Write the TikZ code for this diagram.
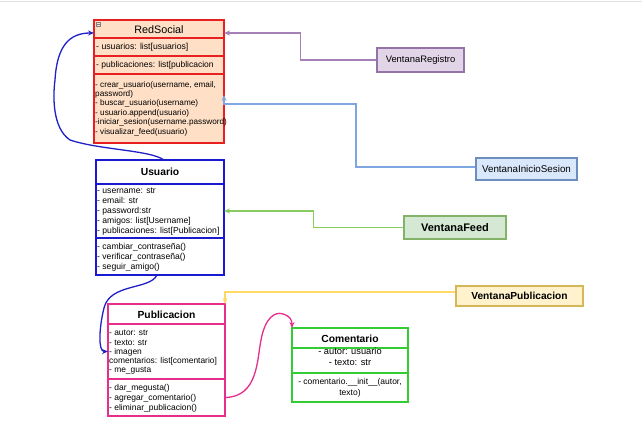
\documentclass[tikz,border=0pt]{standalone}
\usepackage{fontspec}
\setmainfont{Liberation Sans}
\usetikzlibrary{arrows.meta,calc}
\definecolor{peach}{HTML}{FFE0C6}
\definecolor{rsred}{HTML}{E82020}
\definecolor{ublue}{HTML}{1A1AD0}
\definecolor{ppink}{HTML}{E62E8A}
\definecolor{cgreen}{HTML}{33CC33}
\definecolor{regfill}{HTML}{E1D5E7}\definecolor{regline}{HTML}{9673A6}\definecolor{regconn}{HTML}{A680B8}
\definecolor{inifill}{HTML}{DAE8FC}\definecolor{iniline}{HTML}{6C8EBF}\definecolor{iniconn}{HTML}{7EA6E0}
\definecolor{feedfill}{HTML}{D5E8D4}\definecolor{feedline}{HTML}{82B366}\definecolor{feedconn}{HTML}{88CC60}
\definecolor{pubfill}{HTML}{FFF2CC}\definecolor{publine}{HTML}{D6B656}\definecolor{pubconn}{HTML}{FFD966}
\definecolor{curveblue}{HTML}{2020C8}
\newcommand\myfs[2]{\fontsize{#1}{#2}\selectfont}
\tikzset{
  comp/.style={draw, rectangle, anchor=north west, inner sep=0pt, outer sep=0pt, line width=1.5pt},
  rsbox/.style={comp, draw=rsred, fill=peach, minimum width=130pt},
  ubox/.style={comp, draw=ublue, fill=white, minimum width=128pt},
  pbox/.style={comp, draw=ppink, fill=white, minimum width=117pt},
  cbox/.style={comp, draw=cgreen, fill=white, minimum width=116pt},
  vbox/.style={draw, rectangle, inner sep=0pt, line width=1.3pt},
  txt/.style={anchor=west, inner sep=0pt, align=left},
  conn/.style={line width=1.3pt, -{Stealth[length=6pt,width=5pt]}},
  ttl/.style={font=\myfs{10.3}{12}\bfseries},
}
\begin{document}
\begin{tikzpicture}[x=1pt,y=-1pt]
\useasboundingbox (0,0) rectangle (642,433);
\fill[white] (0,0) rectangle (642,433);
\draw[black!12, line width=1pt] (0,2) -- (642,2);

% RedSocial
\node[rsbox, minimum height=18pt] (rsT) at (94,20) {};
\node[font=\myfs{10.8}{12}] (rsTt) at ($(rsT.center)+(0,1)$) {RedSocial};
\node[rsbox, minimum height=18pt] (rsA) at (94,38) {};
\node[rsbox, minimum height=18pt] (rsB) at (94,56) {};
\node[rsbox, minimum height=69pt] (rsM) at (94,74) {};
\draw[gray, line width=0.4pt] (96.5,22.5) rectangle (100.5,26.5);
\draw[gray, line width=0.4pt] (97.3,24.5) -- (99.7,24.5);
\node[txt, font=\myfs{8.7}{9.4}] (rsAt) at (96,47.5) {- usuarios: list[usuarios]};
\node[txt, font=\myfs{8.5}{9.4}] (rsBt) at (96,65.5) {- publicaciones: list[publicacion};
\node[txt, font=\myfs{8.2}{9.4}] (rsMt) at (95,108.5) {- crear\_usuario(username, email,\\password)\\- buscar\_usuario(username)\\- usuario.append(usuario)\\-iniciar\_sesion(username.password)\\- visualizar\_feed(usuario)};

% Usuario
\node[ubox, minimum height=24pt] (uT) at (96,160) {};
\node[ttl] (uTt) at (uT.center) {Usuario};
\node[ubox, minimum height=54pt] (uA) at (96,184) {};
\node[ubox, minimum height=37pt] (uM) at (96,238) {};
\node[txt, font=\myfs{8.6}{10}] (uAt) at (97,211.5) {- username: str\\- email: str\\- password:str\\- amigos: list[Username]\\- publicaciones: list[Publicacion]};
\node[txt, font=\myfs{8.6}{10}] (uMt) at (97,257) {- cambiar\_contraseña()\\- verificar\_contraseña()\\- seguir\_amigo()};

% Publicacion
\node[pbox, minimum height=20pt] (pT) at (108,304) {};
\node[ttl] (pTt) at ($(pT.center)+(0,0.5)$) {Publicacion};
\node[pbox, minimum height=55pt] (pA) at (108,324) {};
\node[pbox, minimum height=37pt] (pM) at (108,379) {};
\node[txt, font=\myfs{8.4}{9.25}] (pAt) at (109,352.5) {- autor: str\\- texto: str\\- imagen\\comentarios: list[comentario]\\- me\_gusta};
\node[txt, font=\myfs{8.5}{10}] (pMt) at (109,398) {- dar\_megusta()\\- agregar\_comentario()\\- eliminar\_publicacion()};

% Comentario
\node[cbox, minimum height=20pt] (cT) at (292,328) {};
\node[ttl] (cTt) at ($(cT.center)+(0,1)$) {Comentario};
\node[cbox, minimum height=25pt] (cA) at (292,348) {};
\node[cbox, minimum height=29pt] (cM) at (292,373) {};
\node[inner sep=0pt, font=\myfs{9.3}{10}] (cAt1) at (350,351.5) {- autor: usuario};
\node[inner sep=0pt, font=\myfs{9.3}{10}] (cAt2) at (350,362.5) {- texto: str};
\node[inner sep=0pt, align=center, font=\myfs{8.5}{10.5}] (cMt) at (350,388) {- comentario.\_\_init\_\_(autor,\\texto)};

% Ventanas
\node[vbox, draw=regline, fill=regfill, minimum width=87pt, minimum height=24pt, font=\myfs{9.4}{11}] (vreg) at (420.5,60) {VentanaRegistro};
\node[vbox, draw=iniline, fill=inifill, minimum width=101pt, minimum height=22pt, font=\myfs{9.8}{11}] (vini) at (526.5,169) {VentanaInicioSesion};
\node[vbox, draw=feedline, fill=feedfill, minimum width=102pt, minimum height=23pt, font=\myfs{11}{13}\bfseries] (vfeed) at (455,227.5) {VentanaFeed};
\node[vbox, draw=publine, fill=pubfill, minimum width=127pt, minimum height=20pt, font=\myfs{10.2}{12}\bfseries] (vpub) at (519.5,296) {VentanaPublicacion};

% Connectors
\draw[conn, regconn] (vreg.west) -- ++(-76,0) |- ([yshift=-4pt]rsT.east);
\coordinate (iniTip) at ($(rsM.north east)+(0,21)$);
\coordinate (iniCorner) at ($(rsM.north east)+(0,30)$);
\draw[conn, iniconn] ([yshift=2pt]vini.west) -| ($(iniCorner)+(132,0)$) -- (iniCorner) -- (iniTip);
\draw[conn, feedconn] (vfeed.west) -- ++(-90,0) |- (uA.east);
\draw[conn, pubconn] ([yshift=4pt]vpub.west) -| (pT.north east);

\draw[conn, curveblue] ([xshift=4pt]uT.north) .. controls (150,150) and (100,150) .. (70,140)
   .. controls (52,128) and (53,95) .. (55,80)
   .. controls (57,45) and (70,33) .. ([yshift=-4pt]rsT.west);
\draw[conn, curveblue] ([xshift=-3pt]uM.south) .. controls (150,290) and (110,283) .. (104,308)
   .. controls (99,328) and (98,351.5) .. (pA.west);
\draw[conn, ppink] (pM.east) .. controls (258,397) and (257,360) .. (261,340)
   .. controls (265,318) and (275,311) .. (283,314)
   .. controls (290,316) and (292,320) .. (cT.north west);
\end{tikzpicture}
\end{document}
